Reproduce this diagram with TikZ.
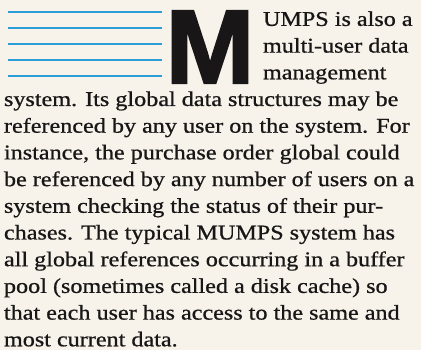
\documentclass[tikz,border=0pt]{standalone}
\usepackage{fontspec}
\setmainfont{Liberation Serif}[FakeBold=0.7]
\newfontfamily\bodyfont[FakeBold=0.7]{Liberation Serif}
\newfontfamily\dropfont[FakeBold=2]{Liberation Sans Bold}
\definecolor{paper}{HTML}{F7F3EB}
\definecolor{ink}{HTML}{181616}
\definecolor{cyanrule}{HTML}{2C9ED6}
\newcommand{\bodyline}[1]{\scalebox{1.15}[1]{#1}}
\tikzset{
  txt/.style={anchor=base west, inner sep=0pt, outer sep=0pt, text=ink,
    font=\bodyfont\fontsize{21}{21}\selectfont},
  rulebar/.style={draw=cyanrule, line width=2.2pt},
  dropcap/.style={anchor=south west, inner sep=0pt, outer sep=0pt, text=ink}
}
\begin{document}
\begin{tikzpicture}[x=1pt,y=-1pt]
\fill[paper] (0,0) rectangle (421,350);
\useasboundingbox (0,0) rectangle (421,350);
% cyan rules
\foreach \yy in {12,28,44,60,76}{
  \draw[rulebar] (8,\yy) -- (162,\yy);
}
% drop cap
\node[dropcap] (drop) at (165.5,83) {\resizebox{89pt}{72pt}{\dropfont M}};
% text lines
\node[txt] (l1) at (263,25.9) {\bodyline{UMPS is also a}};
\node[txt] (l2) at (263,52.6) {\bodyline{multi-user data}};
\node[txt] (l3) at (263,79.3) {\bodyline{management}};
\node[txt] (l4) at (4,106) {\bodyline{system. Its global data structures may be}};
\node[txt] (l5) at (4,132.7) {\bodyline{referenced by any user on the system. For}};
\node[txt] (l6) at (4,159.4) {\bodyline{instance, the purchase order global could}};
\node[txt] (l7) at (4,186.1) {\bodyline{be referenced by any number of users on a}};
\node[txt] (l8) at (4,212.8) {\bodyline{system checking the status of their pur-}};
\node[txt] (l9) at (4,239.5) {\bodyline{chases. The typical MUMPS system has}};
\node[txt] (l10) at (4,266.2) {\bodyline{all global references occurring in a buffer}};
\node[txt] (l11) at (4,292.9) {\bodyline{pool (sometimes called a disk cache) so}};
\node[txt] (l12) at (4,319.6) {\bodyline{that each user has access to the same and}};
\node[txt] (l13) at (4,346.3) {\bodyline{most current data.}};
\end{tikzpicture}
\end{document}
